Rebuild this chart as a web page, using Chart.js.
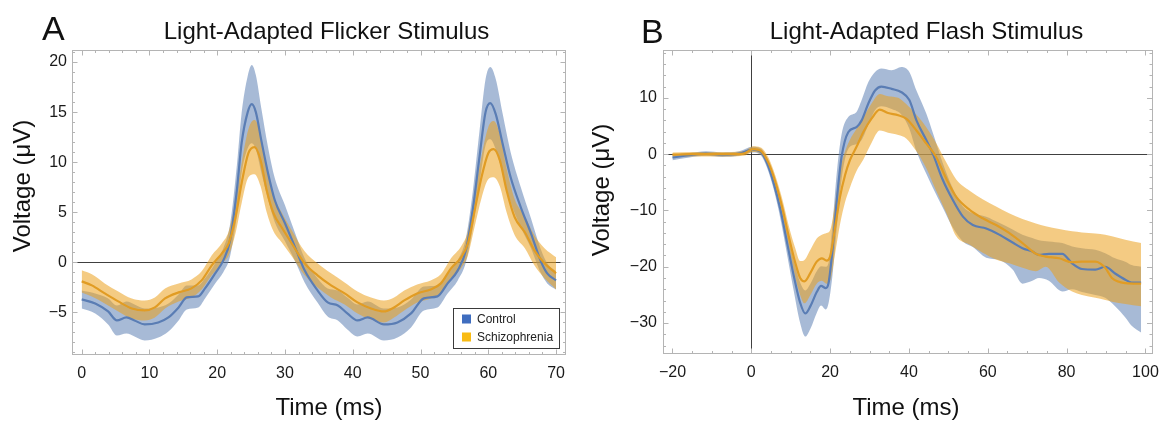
<!DOCTYPE html>
<html><head><meta charset="utf-8">
<script src="https://cdn.jsdelivr.net/npm/chart.js@4.4.0/dist/chart.umd.min.js"></script>
<style>
html,body{margin:0;padding:0;background:#fff;}
#wrap{position:relative;width:1168px;height:421px;overflow:hidden;background:#fff;}
canvas{position:absolute;top:0;}
#ca{left:0;} #cb{left:584px;}
</style></head><body>
<div id="wrap"><canvas id="ca" width="584" height="421"></canvas><canvas id="cb" width="584" height="421"></canvas></div>
<script>
// ---------- Panel A: Light-Adapted Flicker Stimulus ----------
const aCtrlT  = [0,2,3.9,5.2,6.6,7.8,9.3,11.3,12.8,14.3,15.5,17.2,18.2,19.7,20.9,21.9,22.9,23.6,24.5,25.1,25.7,26.5,27.5,28.5,30,31.5,32.9,34.8,36.3,37.8,39.2,40.7,42.2,44.6,46.6,48.6,50.5,52.5,54,55.5,56.7,57.7,58.7,59.6,60.3,61.1,62.1,63.3,64.8,66.3,67.7,68.7,70];
const aCtrl   = [-3.7,-4.1,-4.9,-5.8,-5.5,-5.8,-6.2,-6.0,-5.5,-4.5,-3.5,-3.4,-2.6,-1.1,0.2,2.2,7.2,11.9,15.0,15.8,15.0,12.2,8.9,6.2,3.9,1.5,-0.8,-2.8,-4.0,-4.3,-5.1,-5.8,-5.5,-6.2,-6.0,-5.1,-3.6,-3.4,-2.1,-0.8,1.2,5.2,10.5,15.0,15.9,14.8,11.9,8.5,5.5,2.9,0.2,-1.1,-1.8];
const aCtrlLo = [-4.6,-5.1,-6.2,-7.3,-7.1,-7.4,-7.8,-7.5,-6.9,-5.8,-4.7,-4.5,-3.6,-2.1,-1.0,0.6,4.7,8.9,11.4,11.9,11.3,9.0,6.3,4.0,2.1,0.1,-2.0,-4.0,-5.4,-5.8,-6.7,-7.4,-7.1,-7.8,-7.5,-6.5,-4.8,-4.5,-3.1,-1.8,0.0,3.4,7.9,11.7,12.3,11.3,8.9,6.0,3.5,1.4,-1.0,-2.1,-2.7];
const aCtrlHi = [-2.8,-3.1,-3.6,-4.3,-3.9,-4.2,-4.6,-4.5,-4.1,-3.2,-2.3,-2.3,-1.6,-0.1,1.4,3.8,9.7,14.9,18.6,19.7,18.7,15.4,11.5,8.4,5.7,2.9,0.4,-1.6,-2.6,-2.8,-3.5,-4.2,-3.9,-4.6,-4.5,-3.7,-2.4,-2.3,-1.1,0.2,2.4,7.0,13.1,18.3,19.5,18.3,14.9,11.0,7.5,4.4,1.4,-0.1,-0.9];

const aSchzT  = [0,1.5,3.4,5.4,7.4,9.3,10.8,12.3,14.3,16.2,17.7,19.2,20.7,21.7,22.7,23.6,24.6,25.5,26.4,27.3,28.3,29.5,31,32.9,34.8,36.8,38.8,40.7,42.7,44.6,46.1,47.6,49.5,51.5,53,54.5,56,57,58,59,60,60.8,61.7,62.7,63.9,65.4,66.8,68.3,70];
const aSchz   = [-1.9,-2.3,-3.1,-3.9,-4.6,-4.8,-4.5,-3.6,-3.0,-2.6,-1.8,-0.3,0.9,1.9,4.5,7.9,10.9,11.5,10.2,7.2,4.9,3.5,1.9,-0.1,-1.3,-2.3,-3.1,-4.0,-4.6,-4.9,-4.5,-3.8,-3.1,-2.7,-2.1,-0.6,0.5,1.9,5.2,8.5,10.9,11.3,10.2,7.2,4.5,3.0,1.2,-0.1,-1.1];
const aSchzLo = [-3.0,-3.4,-4.1,-4.9,-5.6,-5.8,-5.5,-4.6,-3.9,-3.5,-2.7,-1.3,-0.1,0.7,2.9,5.9,8.5,8.8,7.6,5.0,3.1,2.0,0.6,-1.3,-2.5,-3.5,-4.2,-5.1,-5.7,-6.0,-5.5,-4.8,-4.0,-3.6,-3.0,-1.6,-0.6,0.7,3.6,6.4,8.3,8.5,7.6,5.0,2.7,1.4,-0.3,-1.6,-2.7];
const aSchzHi = [-0.8,-1.2,-2.1,-2.9,-3.6,-3.8,-3.5,-2.6,-2.1,-1.7,-0.9,0.7,1.9,3.1,6.1,9.9,13.3,14.2,12.8,9.4,6.7,5.0,3.2,1.1,-0.1,-1.1,-2.0,-2.9,-3.5,-3.8,-3.5,-2.8,-2.2,-1.8,-1.2,0.4,1.6,3.1,6.8,10.6,13.5,14.1,12.8,9.4,6.3,4.6,2.7,1.4,0.5];

const aXTicks = [0,10,20,30,40,50,60,70];
const aYTicks = [-5,0,5,10,15,20];

// ---------- Panel B: Light-Adapted Flash Stimulus ----------
const bCtrlT  = [-20,-15.7,-11.5,-7.3,-3.1,0.3,2.4,4,5.7,7.4,9.1,10.8,12.4,13.7,15,16.6,17.7,18.9,19.6,20.6,21.7,22.9,24.6,26.7,28,29.7,31.4,33,35.6,38.1,40.1,41.9,44.4,46.1,48.6,51.1,53.7,56.2,59.6,62.9,66.3,68.8,71.3,73,75.5,78.9,81.4,83.9,87.3,89.8,92.3,94.9,96.5,98.9];
const bCtrl   = [-0.6,-0.2,0.1,-0.1,0.1,0.8,0.4,-1.6,-5.2,-9.9,-15.8,-21.7,-26.4,-28.3,-27.0,-24.5,-23.4,-23.8,-22.9,-17.0,-8.1,-0.5,3.9,4.8,6.0,9.0,11.3,12.0,11.6,11.0,9.6,6.0,2.5,0,-4.6,-8.1,-11.1,-12.6,-13.2,-14.3,-15.7,-16.7,-17.3,-17.9,-17.7,-17.7,-19.4,-20.4,-20.5,-20.0,-21.2,-22.3,-22.8,-22.8];
const bCtrlLo = [-1.1,-0.6,-0.3,-0.5,-0.3,0.3,-0.2,-2.4,-6.3,-11.5,-17.9,-24.4,-30.0,-32.4,-31.0,-28.2,-26.9,-27.6,-26.5,-21.5,-13.0,-4.5,0.9,1.8,2.5,5.2,7.8,8.5,8.0,7.0,4.5,0.5,-3.5,-6.0,-9.5,-13.0,-15.5,-16.5,-18.4,-18.8,-20.5,-23.0,-22.5,-22.0,-22.5,-24.4,-24.0,-24.5,-25.0,-25.5,-27.0,-29.0,-30.5,-31.7];
const bCtrlHi = [-0.1,0.2,0.5,0.3,0.5,1.3,1.0,-0.8,-4.1,-8.3,-13.7,-19.0,-22.8,-24.2,-23.0,-20.8,-19.9,-20.0,-19.3,-12.5,-3.2,3.5,6.6,7.5,9.6,12.8,14.6,15.2,14.9,15.5,14.6,11.3,7.2,3.7,-1.6,-6.0,-9.3,-10.5,-11.1,-12.2,-13.4,-14.3,-14.9,-15.3,-15.5,-15.8,-16.4,-16.7,-17.0,-17.6,-18.5,-19.1,-19.7,-20.0];

const bSchzT  = [-20,-15,-10,-5,-2,0.5,2.4,4.4,6.1,7.8,9.5,11.2,12.4,13.5,15,16.6,17.9,19.1,20,21.3,22.5,23.8,25,26.7,28.4,30.5,32.6,34.7,37.3,39.3,41.9,44.4,46.9,49.5,52,55.4,58.7,62.1,65.4,68.8,72.2,74.7,78.1,81.4,83.9,87.3,89.8,91.5,94.9,98.9];
const bSchz   = [-0.1,0.0,0.0,0.0,0.1,0.9,0.6,-1.6,-4.9,-9.3,-14.6,-19.4,-22.0,-22.6,-21.1,-19.1,-18.5,-18.9,-18.2,-12.9,-7.6,-3.7,-1.1,1.3,3.9,6.3,7.9,7.3,6.9,6.3,4.2,1.9,-0.5,-4.4,-7.6,-9.9,-11.4,-12.6,-14.0,-15.8,-17.7,-18.2,-18.5,-19.2,-19.1,-19.1,-20.2,-22.0,-22.9,-23.0];
const bSchzLo = [-0.5,-0.4,-0.4,-0.4,-0.3,0.4,0.0,-2.5,-6.0,-10.8,-16.5,-22.0,-25.0,-26.5,-25.0,-23.0,-22.5,-23.0,-22.5,-17.5,-12.5,-8.5,-6.0,-3.0,-1.0,2.0,4.2,3.8,3.4,2.8,0.5,-2.5,-6.5,-10.5,-14.6,-16.1,-17.5,-18.7,-19.4,-20.2,-20.8,-20.0,-22.8,-24.4,-25.0,-25.5,-25.9,-26.2,-26.6,-27.0];
const bSchzHi = [0.3,0.4,0.4,0.4,0.5,1.4,1.2,-0.7,-3.8,-7.8,-12.7,-16.8,-19.0,-18.8,-17.0,-15.0,-14.3,-14.0,-13.5,-8.5,-3.0,0.5,2.5,4.5,6.5,9.0,10.7,10.3,10.0,8.9,7.0,4.8,2.0,-1.5,-4.5,-6.5,-8.0,-9.3,-10.5,-11.5,-12.3,-12.8,-13.3,-13.7,-13.9,-14.1,-14.3,-14.6,-15.2,-15.8];

const bXTicks = [-20,0,20,40,60,80,100];
const bYTicks = [-30,-20,-10,0,10];

const seriesNames = ['Control','Schizophrenia'];
const xTitle = 'Time (ms)';
const yTitle = 'Voltage (\u03BCV)';

// ---------- helpers ----------
const FONT = '"Liberation Sans", Arial, Helvetica, sans-serif';
const BLUE = 'rgb(90,125,180)', BLUE_BAND = 'rgba(94,129,181,0.55)';
const ORANGE = 'rgb(225,156,36)', ORANGE_BAND = 'rgba(235,160,30,0.55)';
const pts = (t, v) => t.map((x, i) => ({x, y: v[i]}));
const minusFmt = v => (v < 0 ? '\u2212' : '') + Math.abs(v);

const deco = {
  id: 'deco',
  afterDraw(chart, args, o) {
    const {ctx, chartArea: a, scales: {x, y}} = chart;
    ctx.save();
    ctx.strokeStyle = '#b4b4b4'; ctx.lineWidth = 1;
    ctx.strokeRect(Math.round(a.left) + 0.5, Math.round(a.top) + 0.5, Math.round(a.right - a.left) - 1, Math.round(a.bottom - a.top) - 1);
    const tick = (scale, step, len, horiz) => {
      const start = Math.ceil(scale.min / step - 1e-9) * step;
      for (let v = start; v <= scale.max + 1e-9; v += step) {
        const p = Math.round(scale.getPixelForValue(v)) + 0.5;
        ctx.beginPath();
        if (horiz) { ctx.moveTo(p, a.bottom); ctx.lineTo(p, a.bottom - len); ctx.moveTo(p, a.top); ctx.lineTo(p, a.top + len); }
        else { ctx.moveTo(a.left, p); ctx.lineTo(a.left + len, p); ctx.moveTo(a.right, p); ctx.lineTo(a.right - len, p); }
        ctx.stroke();
      }
    };
    tick(x, o.xMinor, 3, true); tick(x, o.xMajor, 5.5, true);
    tick(y, o.yMinor, 3, false); tick(y, o.yMajor, 5.5, false);
    ctx.fillStyle = '#111'; ctx.textBaseline = 'alphabetic';
    // panel title
    ctx.font = '24px ' + FONT; ctx.textAlign = 'center';
    ctx.fillText(o.title, o.titleX, 39);
    // axis titles
    ctx.fillText(xTitle, o.xTitleX, 415);
    ctx.save();
    ctx.translate(o.yTitleX, o.yTitleY); ctx.rotate(-Math.PI / 2);
    ctx.fillText(yTitle, 0, 0);
    ctx.restore();
    // panel letter
    ctx.font = '34px ' + FONT; ctx.textAlign = 'left';
    ctx.fillText(o.letter, o.letterX, o.letterY);
    if (o.legend) {
      const L = o.legend;
      ctx.fillStyle = '#fff'; ctx.fillRect(L.x, L.y, L.w, L.h);
      ctx.strokeStyle = '#3a3a3a'; ctx.strokeRect(L.x + 0.5, L.y + 0.5, L.w, L.h);
      ctx.font = '12px ' + FONT; ctx.textBaseline = 'middle';
      L.items.forEach((it, i) => {
        const cy = L.y + 11 + i * 18;
        ctx.fillStyle = it.color; ctx.fillRect(L.x + 9, cy - 4.5, 9, 9);
        ctx.fillStyle = '#222'; ctx.fillText(it.text, L.x + 24, cy + 0.5);
      });
    }
    ctx.restore();
  }
};

function makeChart(id, d, cfg) {
  const datasets = [
    {data: pts(d.cT, d.cHi), fill: 1, backgroundColor: BLUE_BAND, borderWidth: 0, order: 4},
    {data: pts(d.cT, d.cLo), fill: false, borderWidth: 0, order: 4},
    {data: pts(d.sT, d.sHi), fill: 3, backgroundColor: ORANGE_BAND, borderWidth: 0, order: 3},
    {data: pts(d.sT, d.sLo), fill: false, borderWidth: 0, order: 3},
    {label: seriesNames[0], data: pts(d.cT, d.c), borderColor: BLUE, borderWidth: 2.2, fill: false, order: 2},
    {label: seriesNames[1], data: pts(d.sT, d.s), borderColor: ORANGE, borderWidth: 2.2, fill: false, order: 1}
  ];
  datasets.forEach(ds => { ds.pointRadius = 0; ds.cubicInterpolationMode = 'monotone'; });
  const zeroGrid = {display: true, drawTicks: false, lineWidth: 1,
    color: c => (c.tick && c.tick.value === 0) ? 'rgba(30,30,30,0.85)' : 'rgba(0,0,0,0)'};
  return new Chart(document.getElementById(id), {
    type: 'line',
    data: {datasets},
    plugins: [deco],
    options: {
      responsive: false, animation: false, devicePixelRatio: 1,
      layout: {padding: {top: 50, right: cfg.padRight, left: 0, bottom: 0}},
      plugins: {legend: {display: false}, tooltip: {enabled: false}, title: {display: false},
        deco: cfg.deco},
      scales: {
        x: {type: 'linear', min: cfg.xMin, max: cfg.xMax,
          afterBuildTicks: s => { s.ticks = cfg.xTicks.map(v => ({value: v})); },
          afterFit: s => { s.height = cfg.xAxisH; },
          grid: cfg.xZero ? zeroGrid : {display: false, drawTicks: false},
          border: {display: false},
          ticks: {padding: 9, color: '#1a1a1a', font: {family: FONT, size: 16}, maxRotation: 0, callback: minusFmt},
          title: {display: false, text: xTitle}
        },
        y: {type: 'linear', min: cfg.yMin, max: cfg.yMax,
          afterBuildTicks: s => { s.ticks = cfg.yTicks.map(v => ({value: v})); },
          afterFit: s => { s.width = cfg.yAxisW; },
          grid: zeroGrid,
          border: {display: false},
          ticks: {padding: cfg.yTickPad, color: '#1a1a1a', font: {family: FONT, size: 16}, callback: minusFmt},
          title: {display: false, text: yTitle}
        }
      }
    }
  });
}

makeChart('ca',
  {cT: aCtrlT, c: aCtrl, cLo: aCtrlLo, cHi: aCtrlHi, sT: aSchzT, s: aSchz, sLo: aSchzLo, sHi: aSchzHi},
  {padRight: 18, xMin: -1.43, xMax: 71.47, yMin: -9.25, yMax: 21.2, xTicks: aXTicks, yTicks: aYTicks,
   xAxisH: 66, yAxisW: 72, yTickPad: 5, xZero: false,
   deco: {title: 'Light-Adapted Flicker Stimulus', titleX: 326.5, letter: 'A', letterX: 42, letterY: 40,
     xTitleX: 329, yTitleX: 30, yTitleY: 186,
     xMinor: 2, xMajor: 10, yMinor: 1, yMajor: 5,
     legend: {x: 453, y: 308, w: 106, h: 40, items: [{text: seriesNames[0], color: '#3f6dbf'}, {text: seriesNames[1], color: '#f9bb13'}]}}});

makeChart('cb',
  {cT: bCtrlT, c: bCtrl, cLo: bCtrlLo, cHi: bCtrlHi, sT: bSchzT, s: bSchz, sLo: bSchzLo, sHi: bSchzHi},
  {padRight: 15, xMin: -22.4, xMax: 101.8, yMin: -35.5, yMax: 18.5, xTicks: bXTicks, yTicks: bYTicks,
   xAxisH: 67, yAxisW: 79, yTickPad: 6, xZero: true,
   deco: {title: 'Light-Adapted Flash Stimulus', titleX: 342.5, letter: 'B', letterX: 57, letterY: 43,
     xTitleX: 322, yTitleX: 25, yTitleY: 190,
     xMinor: 5, xMajor: 20, yMinor: 2, yMajor: 10, legend: null}});
</script>
</body></html>
